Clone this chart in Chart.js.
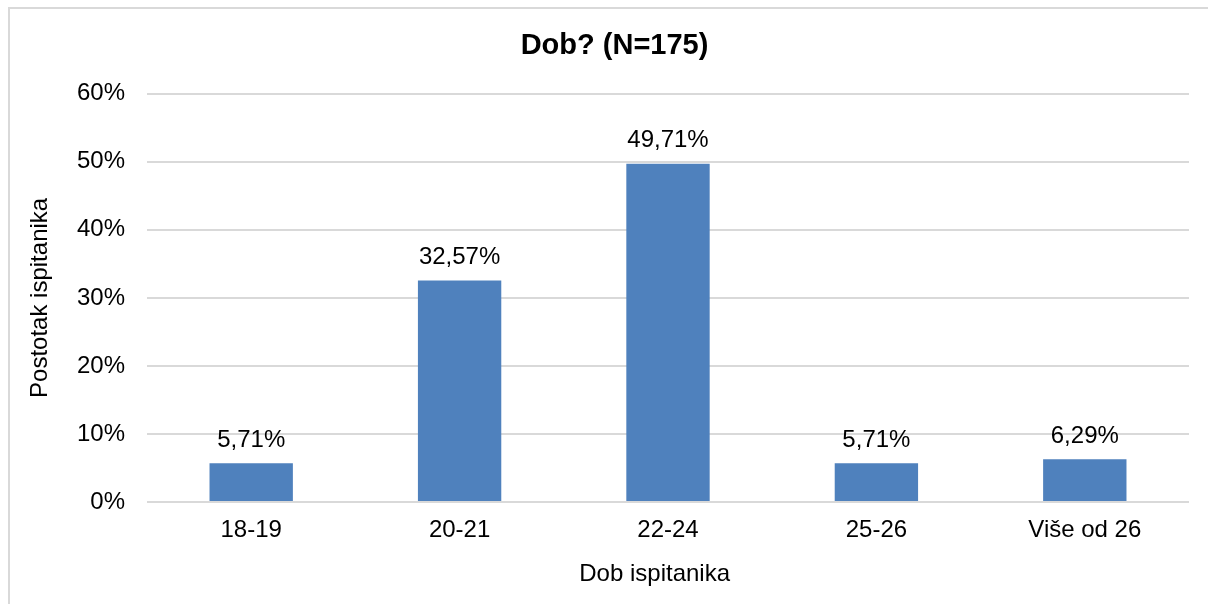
<!DOCTYPE html>
<html>
<head>
<meta charset="utf-8">
<script src="https://cdn.jsdelivr.net/npm/chart.js@4.4.1/dist/chart.umd.min.js"></script>
<style>
  html, body { margin: 0; padding: 0; background: #fff; overflow: hidden; }
  #wrap { position: relative; width: 1208px; height: 604px; }
  #frame { position: absolute; left: 8px; top: 7px; width: 1220px; height: 620px; border: 2px solid #d9d9d9; }
  #chart { position: absolute; left: 0; top: 0; }
</style>
</head>
<body>
<div id="wrap">
  <div id="frame"></div>
  <canvas id="chart" width="1208" height="604"></canvas>
</div>
<script>
// ── Data ────────────────────────────────────────────────────────────────────
const categories = ['18-19', '20-21', '22-24', '25-26', 'Više od 26'];
const values = [5.71, 32.57, 49.71, 5.71, 6.29];
const yTicks = [0, 10, 20, 30, 40, 50, 60];

const FONT = 'Arial, "Liberation Sans", sans-serif';
const TEXT = '#000000';

// draws the value labels above each bar
const barLabels = {
  id: 'barLabels',
  afterDatasetsDraw(chart) {
    const c = chart.ctx;
    const meta = chart.getDatasetMeta(0);
    c.save();
    c.font = '24px ' + FONT;
    c.fillStyle = TEXT;
    c.textAlign = 'center';
    c.textBaseline = 'middle';
    meta.data.forEach((bar, i) => {
      const txt = values[i].toFixed(2).replace('.', ',') + '%';
      c.fillText(txt, bar.x, bar.y - 23);
    });
    c.restore();
  },
};

new Chart(document.getElementById('chart'), {
  type: 'bar',
  data: {
    labels: categories,
    datasets: [{
      data: values,
      backgroundColor: '#4f81bd',
      borderWidth: 0,
      barPercentage: 0.4,
      categoryPercentage: 1,
    }],
  },
  options: {
    responsive: false,
    animation: false,
    layout: { padding: { left: 40, right: 19, top: 0, bottom: 0 } },
    plugins: {
      legend: { display: false },
      tooltip: { enabled: false },
      title: {
        display: true,
        text: 'Dob? (N=175)',
        color: TEXT,
        font: { family: FONT, size: 29, weight: 'bold' },
        padding: { top: 29, bottom: 30 },
      },
    },
    scales: {
      x: {
        grid: { display: false, drawTicks: false },
        border: { display: false },
        ticks: { color: TEXT, font: { family: FONT, size: 24 }, padding: 14 },
        title: {
          display: true,
          text: 'Dob ispitanika    ',
          color: TEXT,
          font: { family: FONT, size: 24 },
          padding: { top: 0, bottom: 15 },
        },
        afterFit: s => { s.height = 102; },
      },
      y: {
        min: 0,
        max: 60,
        afterBuildTicks: s => { s.ticks = yTicks.map(v => ({ value: v })); },
        grid: { color: '#d9d9d9', lineWidth: 2, drawTicks: false },
        border: { display: false },
        ticks: {
          color: TEXT,
          font: { family: FONT, size: 24 },
          padding: 22,
          callback: v => v + '%',
        },
        title: {
          display: true,
          text: 'Postotak ispitanika',
          color: TEXT,
          font: { family: FONT, size: 24 },
          padding: { top: -14, bottom: 0 },
        },
        afterFit: s => { s.width = 107; },
      },
    },
  },
  plugins: [barLabels],
});
</script>
</body>
</html>
